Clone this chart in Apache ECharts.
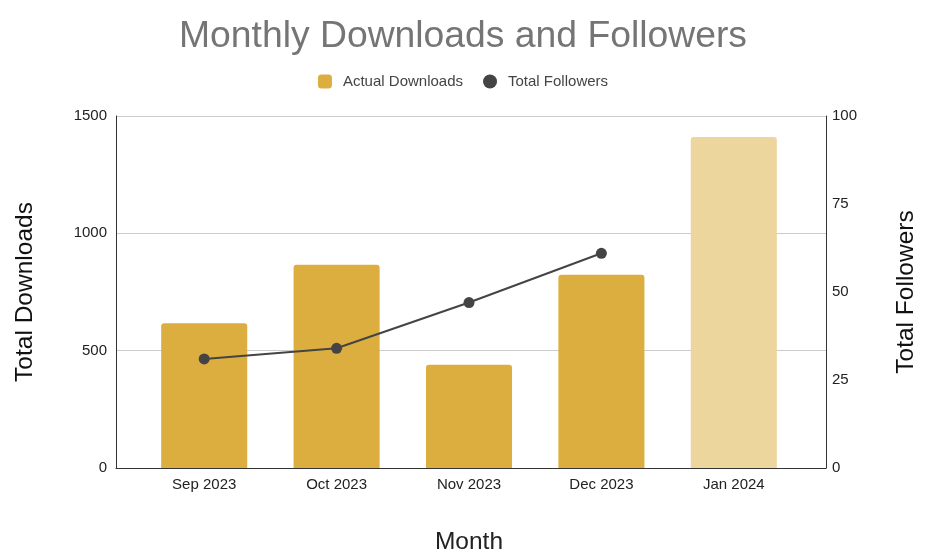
<!DOCTYPE html>
<html>
<head>
<meta charset="utf-8">
<script src="https://cdn.jsdelivr.net/npm/echarts@6/dist/echarts.min.js"></script>
<style>
  html, body { margin: 0; padding: 0; background: #fff; }
  #chart { width: 926px; height: 557px; }
</style>
</head>
<body>
<div id="chart"></div>
<script>
const months = ['Sep 2023', 'Oct 2023', 'Nov 2023', 'Dec 2023', 'Jan 2024'];
const downloads = [617, 866, 440, 823, 1410];
const followers = [31, 34, 47, 61, null];
const projectedIndex = 4;

const barColor = '#dcae40';
const projectedColor = '#edd59e';
const font = '"Liberation Sans", Arial, sans-serif';

const chart = echarts.init(document.getElementById('chart'), null, { renderer: 'canvas' });

// grid 0 carries the visible frame and both y axes,
// grid 1 is inset a little so the categories sit away from the axis lines
const frame = { top: 116, bottom: 89, outerBoundsMode: 'none', containLabel: false };

chart.setOption({
  animation: false,
  textStyle: { fontFamily: font },
  title: {
    text: 'Monthly Downloads and Followers',
    left: 'center',
    top: 13,
    textStyle: { fontSize: 37.3, fontWeight: 'normal', color: '#757575', fontFamily: font }
  },
  legend: {
    top: 69,
    left: 'center',
    itemGap: 20,
    itemWidth: 14,
    itemHeight: 14,
    textStyle: { fontSize: 15, color: '#444', fontFamily: font, padding: [0, 0, 0, 6] },
    data: [
      { name: 'Actual Downloads', icon: 'roundRect', itemStyle: { color: barColor } },
      { name: 'Total Followers', icon: 'circle', itemStyle: { color: '#444' } }
    ]
  },
  grid: [
    Object.assign({ left: 116, right: 100 }, frame),
    Object.assign({ left: 138, right: 126 }, frame)
  ],
  xAxis: [
    {
      type: 'value',
      gridIndex: 0,
      min: 0,
      max: 1,
      axisLine: { show: true, onZero: false, lineStyle: { color: '#333', width: 1 } },
      axisTick: { show: false },
      axisLabel: { show: false },
      splitLine: { show: false }
    },
    {
      type: 'category',
      gridIndex: 1,
      data: months,
      name: 'Month',
      nameLocation: 'middle',
      nameGap: 62,
      nameTextStyle: { fontSize: 24.5, color: '#222', fontFamily: font },
      axisLine: { show: false },
      axisTick: { show: false },
      axisLabel: { fontSize: 15, color: '#222', margin: 9 }
    }
  ],
  yAxis: [
    {
      type: 'value',
      gridIndex: 0,
      min: 0,
      max: 1500,
      interval: 500,
      name: 'Total Downloads',
      nameLocation: 'middle',
      nameGap: 78,
      nameTextStyle: { fontSize: 24.5, color: '#111', fontFamily: font },
      axisLine: { show: true, lineStyle: { color: '#333' } },
      axisTick: { show: false },
      axisLabel: { fontSize: 15, color: '#222', margin: 9, formatter: (v) => String(v) },
      splitLine: { lineStyle: { color: '#ccc' } }
    },
    {
      type: 'value',
      gridIndex: 0,
      min: 0,
      max: 100,
      interval: 25,
      name: 'Total Followers',
      nameLocation: 'middle',
      nameGap: 68,
      nameTextStyle: { fontSize: 24.5, color: '#111', fontFamily: font },
      axisLine: { show: true, lineStyle: { color: '#333' } },
      axisTick: { show: false },
      axisLabel: { fontSize: 15, color: '#222', margin: 6 },
      splitLine: { show: false }
    },
    { type: 'value', gridIndex: 1, min: 0, max: 1500, show: false, splitLine: { show: false } },
    { type: 'value', gridIndex: 1, min: 0, max: 100, show: false, splitLine: { show: false } }
  ],
  series: [
    {
      name: 'Actual Downloads',
      type: 'bar',
      xAxisIndex: 1,
      yAxisIndex: 2,
      barWidth: '65%',
      itemStyle: { color: barColor, borderRadius: [3, 3, 0, 0] },
      data: downloads.map((v, i) => i === projectedIndex
        ? { value: v, itemStyle: { color: projectedColor } }
        : v)
    },
    {
      name: 'Total Followers',
      type: 'line',
      xAxisIndex: 1,
      yAxisIndex: 3,
      symbol: 'circle',
      symbolSize: 11,
      lineStyle: { color: '#444', width: 2 },
      itemStyle: { color: '#444' },
      data: followers
    }
  ]
});
</script>
</body>
</html>
